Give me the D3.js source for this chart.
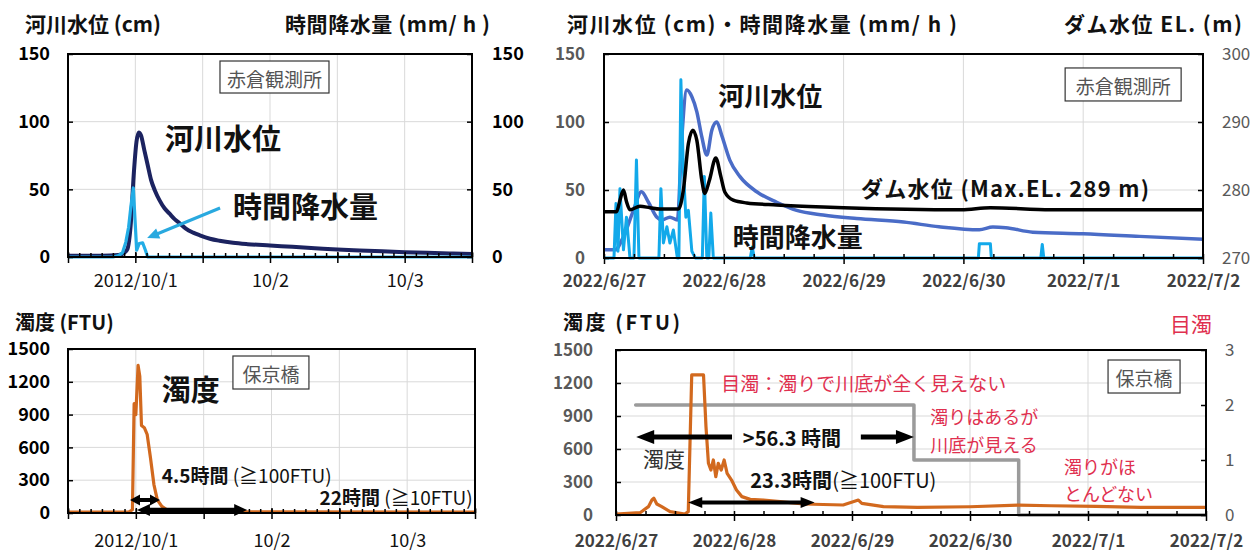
<!DOCTYPE html>
<html>
<head>
<meta charset="utf-8">
<script src="https://cdn.jsdelivr.net/npm/d3@7"></script>
<style>
  body { margin: 0; background: #fff; }
  svg { display: block; }
</style>
</head>
<body>
<div id="chart"></div>
<script>
// ---- 2012 event, hours from 2012/10/1 00:00 ----
const levelHours2012 = [-12, -6, -3, -2, -1.4, -0.8, -0.3, 0.2, 0.6, 1.0, 1.6, 2.2, 2.8, 3.5, 4.3, 5.2, 6.1, 7.0, 7.9, 9.0, 10.3, 11.5, 13.3, 15, 17.4, 20, 24, 28, 32, 36, 40, 44, 48, 52, 56, 60];
const levelValues2012 = [1, 1, 1.5, 3, 6, 25, 60, 85, 92, 90, 79, 68, 57, 49, 42, 36, 32, 28, 25, 21, 18, 16, 13.5, 12, 10.5, 9.5, 8.5, 7.5, 6.5, 5.5, 4.8, 4.2, 3.6, 3.1, 2.6, 2.2];
const rainHours2012 = [-12, -4, -3, -2.3, -1.7, -1.2, -0.8, -0.36, 0.24, 0.7, 1.3, 1.8, 2.2, 60];
const rainValues2012 = [0, 0, 1, 3, 11, 22, 37, 51, 5, 10, 10.5, 5, 0, 0];
const turbHours2012 = [-12, -2, -1.2, -0.6, -0.3, 0, 0.4, 0.7, 1.0, 1.5, 2.0, 2.6, 3.2, 3.8, 4.6, 5.5, 6.5, 8, 60];
const turbValues2012 = [8, 8, 10, 30, 1000, 900, 1350, 1250, 800, 780, 720, 500, 260, 120, 60, 30, 15, 10, 8];

// ---- 2022 event, hours from 2022/6/27 00:00 ----
const levelHours2022 = [0, 2.2, 3.9, 5.9, 7.5, 8.9, 10.6, 11.6, 13.2, 14.7, 15.6, 16.6, 17.6, 18.6, 19.6, 20.6, 21.6, 22.6, 23.6, 25.2, 27.2, 30.6, 34.6, 38.6, 43.9, 50.6, 60, 67.1, 75.2, 77.9, 80.5, 85.9, 96, 107.3, 120];
const levelValues2022 = [6, 6, 15.7, 35, 48.7, 41, 30, 28, 30, 28, 89, 123.5, 118.6, 107.5, 89, 75.7, 94, 100, 90, 72, 60, 48.7, 41, 35, 31.6, 29, 26.4, 23, 20.8, 22.8, 22.3, 19, 17.9, 15.9, 13.7];
const damHours2022 = [0, 2.5, 3.2, 3.9, 4.5, 5.2, 7.2, 9.2, 11.2, 14.9, 15.9, 16.9, 17.8, 18.6, 19.6, 20.2, 21.1, 22.4, 23.4, 24.2, 25.9, 28.6, 34.6, 43.9, 48, 71.6, 77.4, 89.5, 120];
const damLevels2022 = [276.8, 276.8, 278.5, 280.0, 278.3, 277.1, 277.6, 277.4, 277.2, 277.2, 280.0, 286.8, 288.8, 287.3, 281.4, 279.5, 281.4, 284.7, 282.0, 279.7, 278.5, 278.1, 277.8, 277.5, 277.4, 277.1, 277.4, 277.1, 277.1];
const rainHours2022 = [0, 2.0, 2.4, 2.8, 3.2, 3.9, 4.5, 5.2, 6.0, 6.5, 7.0, 11.0, 11.4, 11.9, 12.6, 13.2, 13.9, 14.7, 15.0, 15.4, 15.9, 16.4, 16.9, 17.6, 18.3, 19.7, 20.1, 20.6, 21.0, 21.4, 21.9, 29.3, 29.7, 30.1, 75.0, 75.2, 77.4, 77.6, 87.5, 87.8, 88.1, 120];
const rainValues2022 = [0, 0, 40, 5, 51, 6, 30, 0, 0, 72, 0, 0, 51, 11, 23, 11, 20.6, 0, 0, 131, 64.7, 30, 35, 5, 0, 0, 60, 0, 0, 33, 0, 0, 8, 0, 0, 10.5, 10.5, 0, 0, 10, 0, 0];
const turbHours2022 = [0, 4.9, 6.6, 7.3, 7.7, 8.3, 9.3, 11, 14, 14.7, 15.4, 17.8, 18.3, 18.8, 19.3, 19.8, 20.3, 20.8, 21.4, 22, 22.6, 23.5, 24.5, 25.6, 27.3, 30, 33.4, 38.1, 46.2, 49.3, 50, 54.4, 61.3, 72, 81.9, 88.5, 97.6, 106.7, 120];
const turbValues2022 = [8, 21, 76, 136, 152, 100, 76, 30, 9, 30, 1273, 1273, 803, 470, 409, 500, 348, 470, 409, 500, 379, 318, 227, 167, 142, 136, 121, 100, 91, 136, 106, 76, 69, 75, 90, 84, 78, 69, 69];
const eyeHours2022 = [4, 60.6, 60.6, 81.9, 81.9, 120];
const eyeValues2022 = [2, 2, 1, 1, 0, 0];

// ---- tick values ----
const yTicksLevel = [0, 50, 100, 150];
const yTicksDam = [270, 280, 290, 300];
const yTicksTurb = [0, 300, 600, 900, 1200, 1500];
const yTicksEye = [0, 1, 2, 3];

const base2012 = new Date(2012, 9, 1);
const base2022 = new Date(2022, 5, 27);
const at = (base, h) => new Date(base.getTime() + h * 3600e3);
const toPoints = (base, hs, vs) => hs.map((h, i) => ({ t: at(base, h), v: vs[i] }));

const FONT = "'Noto Sans CJK JP', 'Noto Sans', sans-serif";
const svg = d3.select('#chart').append('svg')
  .attr('width', 1260).attr('height', 552)
  .style('font-family', FONT);
const defs = svg.append('defs');

const fmtFull = d3.timeFormat('%Y/%-m/%-d');
const fmtShort = d3.timeFormat('%-m/%-d');

function panel(o) {
  const x = d3.scaleTime().domain([at(o.base, o.h0), at(o.base, o.h1)]).range([o.l, o.r]);
  const y = d3.scaleLinear().domain(o.yDomain).range([o.b, o.t]);
  const y2 = o.y2Domain ? d3.scaleLinear().domain(o.y2Domain).range([o.b, o.t]) : null;
  const g = svg.append('g');

  defs.append('clipPath').attr('id', 'clip-' + o.id).append('rect')
    .attr('x', o.l).attr('y', o.t).attr('width', o.r - o.l).attr('height', o.b - o.t + 2);

  // gridlines
  const grid = g.append('g').attr('stroke', '#d9d9d9').attr('stroke-width', 1);
  grid.append('g').selectAll('line').data(o.yTicks.slice(1, -1)).join('line')
    .attr('x1', o.l).attr('x2', o.r).attr('y1', d => y(d)).attr('y2', d => y(d));
  grid.append('g').selectAll('line').data(d3.range(o.h0 + o.gridStep, o.h1, o.gridStep)).join('line')
    .attr('x1', h => x(at(o.base, h))).attr('x2', h => x(at(o.base, h)))
    .attr('y1', o.t).attr('y2', o.b);

  const plot = g.append('g').attr('clip-path', `url(#clip-${o.id})`);
  const frame = g.append('g');

  const clean = a => { a.select('.domain').remove(); a.attr('font-family', null).attr('font-size', null); };
  const tickStyle = a => a.selectAll('.tick line').attr('stroke', '#000').attr('stroke-width', 1.5);
  const hourTimes = step => d3.range(o.h0, o.h1 + 1e-6, step).map(h => at(o.base, h));
  const textStyle = f => a => a.selectAll('text')
    .attr('font-size', f.size).attr('font-weight', f.weight).attr('fill', f.fill);

  frame.append('rect')
    .attr('x', o.l).attr('y', o.t).attr('width', o.r - o.l).attr('height', o.b - o.t)
    .attr('fill', 'none').attr('stroke', '#000').attr('stroke-width', 2);

  frame.append('g').attr('transform', `translate(0,${o.b})`)
    .call(d3.axisBottom(x).tickValues(hourTimes(o.minorStep)).tickSize(-4).tickFormat(''))
    .call(clean).call(tickStyle);
  frame.append('g').attr('transform', `translate(0,${o.b - o.majorIn})`)
    .call(d3.axisBottom(x).tickValues(hourTimes(o.majorStep)).tickSize(o.majorIn + o.majorOut).tickFormat(''))
    .call(clean).call(tickStyle);
  frame.append('g').attr('transform', `translate(0,${o.b})`)
    .call(d3.axisBottom(x).tickValues(o.labelHours.map(h => at(o.base, h)))
      .tickSize(0).tickPadding(o.xPad).tickFormat(o.xFormat))
    .call(clean).call(textStyle(o.xFont));

  frame.append('g').attr('transform', `translate(${o.l},0)`)
    .call(d3.axisLeft(y).tickValues(o.yTicks).tickSize(-5).tickPadding(o.yPad).tickFormat(d3.format('d')))
    .call(clean).call(tickStyle).call(textStyle(o.yFont));
  if (y2) {
    frame.append('g').attr('transform', `translate(${o.r},0)`)
      .call(d3.axisRight(y2).tickValues(o.y2Ticks).tickSize(-5).tickPadding(o.y2Pad).tickFormat(d3.format('d')))
      .call(clean).call(tickStyle).call(textStyle(o.y2Font));
  }

  return { o, x, y, y2, g, plot, px: h => x(at(o.base, h)) };
}

function series(p, data, yScale, color, width, curve) {
  p.plot.append('path').datum(data)
    .attr('d', d3.line().x(d => p.x(d.t)).y(d => yScale(d.v)).curve(curve || d3.curveLinear))
    .attr('fill', 'none').attr('stroke', color).attr('stroke-width', width)
    .attr('stroke-linejoin', 'round').attr('stroke-linecap', 'round');
}

function note(p, h, v, parts, size, fill, anchor, len) {
  const t = p.g.append('text')
    .attr('x', p.px(h)).attr('y', p.y(v))
    .attr('font-size', size).attr('fill', fill || '#111')
    .attr('text-anchor', anchor || 'start');
  parts.forEach(([s, w]) => t.append('tspan').attr('font-weight', w).text(s));
  if (len) t.attr('textLength', len);
  return t;
}

function stationBox(p, h, v, label, w, hgt) {
  const cx = p.px(h), cy = p.y(v);
  p.g.append('rect')
    .attr('x', cx - w / 2).attr('y', cy - hgt / 2).attr('width', w).attr('height', hgt)
    .attr('fill', '#fff').attr('stroke', '#333').attr('stroke-width', 1.2);
  p.g.append('text').attr('x', cx).attr('y', cy + 1)
    .attr('text-anchor', 'middle').attr('dominant-baseline', 'central')
    .attr('font-size', 19).attr('fill', '#555').text(label);
}

function arrow(p, h1, v1, h2, v2, st) {
  const x1 = p.px(h1), y1 = p.y(v1), x2 = p.px(h2), y2 = p.y(v2);
  const a = Math.atan2(y2 - y1, x2 - x1);
  const L = st.head, W = st.headW / 2;
  const head = (x, y, ang) => {
    const bx = x - L * Math.cos(ang), by = y - L * Math.sin(ang);
    return [[x, y], [bx - W * Math.sin(ang), by + W * Math.cos(ang)], [bx + W * Math.sin(ang), by - W * Math.cos(ang)]]
      .map(q => q.join(',')).join(' ');
  };
  const sx = st.both ? x1 + (L - 2) * Math.cos(a) : x1, sy = st.both ? y1 + (L - 2) * Math.sin(a) : y1;
  p.g.append('line')
    .attr('x1', sx).attr('y1', sy)
    .attr('x2', x2 - (L - 2) * Math.cos(a)).attr('y2', y2 - (L - 2) * Math.sin(a))
    .attr('stroke', st.color).attr('stroke-width', st.width);
  p.g.append('polygon').attr('points', head(x2, y2, a)).attr('fill', st.color);
  if (st.both) p.g.append('polygon').attr('points', head(x1, y1, a + Math.PI)).attr('fill', st.color);
}

const fmt2012 = (d, i) => (i === 0 ? fmtFull(d) : fmtShort(d));
const boldBlack = { size: 18, weight: 'bold', fill: '#000' };
const grayBold = { size: 17, weight: 'bold', fill: '#595959' };
const grayNorm = { size: 17, weight: 'normal', fill: '#595959' };

// ---------- top-left: 2012 river level & rainfall ----------
const tl = panel({
  id: 'tl', base: base2012, h0: -12, h1: 60, l: 68, r: 472, t: 54, b: 257,
  yDomain: [0, 150], y2Domain: [0, 150], yTicks: yTicksLevel, y2Ticks: yTicksLevel,
  gridStep: 12, majorStep: 12, minorStep: 2, majorIn: 5, majorOut: 6,
  labelHours: [0, 24, 48], xFormat: fmt2012, xPad: 17,
  xFont: { size: 18, weight: 'normal', fill: '#111' }, yFont: boldBlack, y2Font: boldBlack,
  yPad: 18, y2Pad: 20
});
series(tl, toPoints(base2012, levelHours2012, levelValues2012), tl.y, '#1c2360', 4, d3.curveMonotoneX);
series(tl, toPoints(base2012, rainHours2012, rainValues2012), tl.y2, '#22ade6', 3.2);
stationBox(tl, 24.8, 133, '赤倉観測所', 109, 32);
note(tl, 5.3, 79, [['河川水位', 'bold']], 29);
note(tl, 17.4, 28.8, [['時間降水量', 'bold']], 29);
arrow(tl, 15.1, 36.2, 2.1, 14, { color: '#29a9df', width: 3, head: 12, headW: 11 });

// ---------- bottom-left: 2012 turbidity ----------
const bl = panel({
  id: 'bl', base: base2012, h0: -12, h1: 60, l: 68, r: 475, t: 349, b: 513,
  yDomain: [0, 1500], yTicks: yTicksTurb,
  gridStep: 12, majorStep: 12, minorStep: 2, majorIn: 5, majorOut: 6,
  labelHours: [0, 24, 48], xFormat: fmt2012, xPad: 21,
  xFont: { size: 18, weight: 'normal', fill: '#111' }, yFont: boldBlack, yPad: 18
});
series(bl, toPoints(base2012, turbHours2012, turbValues2012), bl.y, '#d2691e', 3.2);
stationBox(bl, 23.9, 1285, '保京橋', 76, 33);
note(bl, 4.6, 1024, [['濁度', 'bold']], 29);
arrow(bl, 0.2, 27, 19.7, 27, { color: '#000', width: 4.5, head: 13, headW: 12, both: true });
arrow(bl, -1.03, 119, 4.27, 119, { color: '#000', width: 4, head: 10, headW: 11, both: true });
note(bl, 4.6, 274, [['4.5時間', 'bold'], [' (≧100FTU)', 'normal']], 19);
note(bl, 59.6, 73, [['22時間', 'bold'], [' (≧10FTU)', 'normal']], 19, '#111', 'end');

// ---------- top-right: 2022 river level, dam level & rainfall ----------
const tr = panel({
  id: 'tr', base: base2022, h0: 0, h1: 120, l: 604, r: 1203, t: 54, b: 258,
  yDomain: [0, 150], y2Domain: [270, 300], yTicks: yTicksLevel, y2Ticks: yTicksDam,
  gridStep: 24, majorStep: 24, minorStep: 6, majorIn: 0, majorOut: 6,
  labelHours: [0, 24, 48, 72, 96, 120], xFormat: d => fmtFull(d), xPad: 17,
  xFont: { size: 17, weight: 'bold', fill: '#404040' }, yFont: grayBold, y2Font: grayNorm,
  yPad: 19, y2Pad: 19
});
series(tr, toPoints(base2022, levelHours2022, levelValues2022), tr.y, '#4a6cc7', 3.5, d3.curveMonotoneX);
series(tr, toPoints(base2022, rainHours2022, rainValues2022), tr.y, '#12a9ea', 3);
series(tr, toPoints(base2022, damHours2022, damLevels2022), tr.y2, '#000', 3.5, d3.curveMonotoneX);
stationBox(tr, 104, 127.6, '赤倉観測所', 116, 33);
note(tr, 22.9, 111.8, [['河川水位', 'bold']], 26);
note(tr, 51.5, 44.9, [['ダム水位 (Max.EL. 289 m)', 'bold']], 22, '#111', 'start', 288);
note(tr, 25.8, 8.1, [['時間降水量', 'bold']], 26);

// ---------- bottom-right: 2022 turbidity & visual turbidity ----------
const br = panel({
  id: 'br', base: base2022, h0: 0, h1: 120, l: 616, r: 1206, t: 350, b: 515,
  yDomain: [0, 1500], y2Domain: [0, 3], yTicks: yTicksTurb, y2Ticks: yTicksEye,
  gridStep: 24, majorStep: 24, minorStep: 6, majorIn: 0, majorOut: 6,
  labelHours: [0, 24, 48, 72, 96, 120], xFormat: d => fmtFull(d), xPad: 20,
  xFont: { size: 17, weight: 'bold', fill: '#404040' }, yFont: grayBold, y2Font: grayNorm,
  yPad: 23, y2Pad: 19
});
series(br, toPoints(base2022, eyeHours2022, eyeValues2022), br.y2, '#9b9b9b', 3.5);
series(br, toPoints(base2022, turbHours2022, turbValues2022), br.y, '#d2691e', 3.2);
stationBox(br, 107.4, 1259, '保京橋', 72, 33);
const red = '#e0304f';
note(br, 21.4, 1127, [['目濁：濁りで川底が全く見えない', 'normal']], 19, red);
note(br, 63.9, 827, [['濁りはあるが', 'normal']], 18, red);
note(br, 63.9, 573, [['川底が見える', 'normal']], 18, red);
note(br, 91.1, 373, [['濁りがほ', 'normal']], 18, red);
note(br, 91.1, 127, [['とんどない', 'normal']], 18, red);
arrow(br, 23.6, 709, 4.1, 709, { color: '#000', width: 5, head: 18, headW: 14 });
arrow(br, 49.8, 709, 60.6, 709, { color: '#000', width: 5, head: 18, headW: 14 });
note(br, 25.8, 627, [['>56.3 時間', 'bold']], 20);
note(br, 5.5, 436, [['濁度', 'normal']], 21, '#333');
arrow(br, 14.7, 114, 40.4, 114, { color: '#000', width: 4, head: 14, headW: 11, both: true });
note(br, 27.3, 245, [['23.3時間', 'bold'], ['(≧100FTU)', 'normal']], 20);

// ---------- titles ----------
const title = (x, y, s, o = {}) => svg.append('text').attr('x', x).attr('y', y)
  .attr('font-size', o.size || 21).attr('font-weight', o.weight || 'bold')
  .attr('fill', o.fill || '#111').attr('textLength', o.len || null).text(s);
title(25, 32, '河川水位 (cm)');
title(285, 32, '時間降水量 (mm/ h )', { len: 205 });
title(567, 32, '河川水位 (cm)・時間降水量 (mm/ h )', { len: 390 });
title(1064, 32, 'ダム水位 EL. (m)', { len: 178 });
title(15, 330, '濁度 (FTU)', { size: 20 });
title(563, 330, '濁度 (FTU)', { len: 117, size: 20 });
title(1170, 332, '目濁', { weight: 'normal', fill: red, size: 21 });
</script>
</body>
</html>
